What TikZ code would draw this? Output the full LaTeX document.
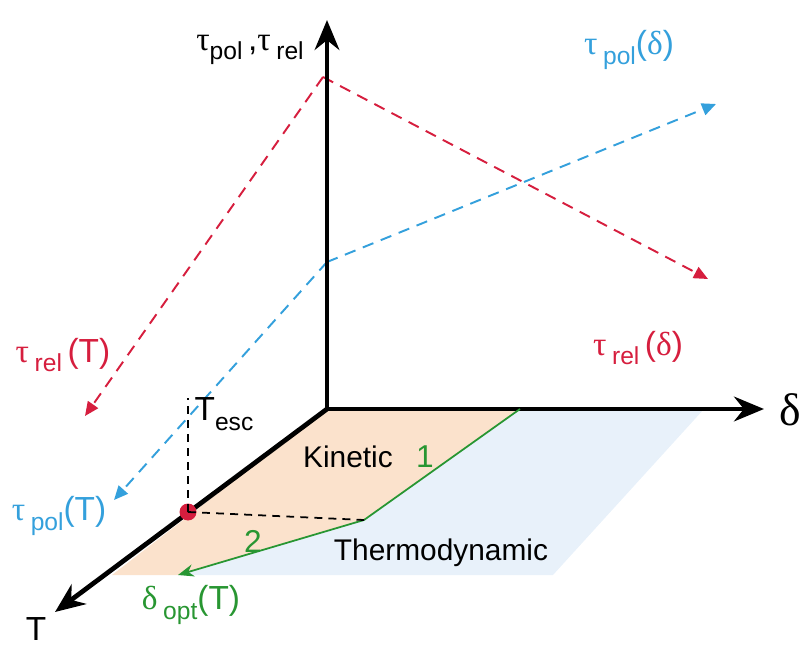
\documentclass[tikz,border=0pt]{standalone}
\usepackage{fontspec}
\setmainfont{Liberation Sans}
\newfontfamily\grk{Liberation Serif}
\usetikzlibrary{arrows.meta}
\definecolor{relred}{RGB}{214,30,62}
\definecolor{polblue}{RGB}{52,160,220}
\definecolor{optgreen}{RGB}{40,150,50}
\definecolor{kinfill}{RGB}{251,226,204}
\definecolor{thfill}{RGB}{232,241,250}
\newcommand{\lowtxt}[1]{\raisebox{-0.55ex}{\fontsize{14}{14}\selectfont #1}}
\newcommand{\gtau}{{\grk τ}}
\newcommand{\gdel}{{\grk δ}}
\tikzset{
  axis/.style={line width=2.7pt,-{Stealth[length=17pt,width=14pt]}},
  trend/.style={line width=1.1pt,dash pattern=on 6.5pt off 4.5pt,-{Triangle[length=8pt,width=7pt]}},
  lab/.style={font=\fontsize{19}{21}\selectfont,inner sep=0pt},
}
\begin{document}
\begin{tikzpicture}[x=0.02cm,y=-0.02cm]
  \useasboundingbox (0,0) rectangle (808,645);
  % Points
  \coordinate (O) at (327,409);
  \coordinate (dtip) at (764,409);
  \coordinate (tautip) at (327,20);
  \coordinate (Ttip) at (55,612);
  \coordinate (kA) at (520,409);
  \coordinate (kB) at (364,520);
  \coordinate (kC) at (178,575);
  \coordinate (kD) at (112,575);
  \coordinate (tA) at (704,409);
  \coordinate (tB) at (553,575);
  \coordinate (relapex) at (323,77);
  \coordinate (relT) at (85,416);
  \coordinate (reld) at (708,279);
  \coordinate (polkink) at (327,262);
  \coordinate (polT) at (114,500);
  \coordinate (pold) at (716,104);
  \coordinate (esctop) at (186,398);
  % Regions
  \fill[thfill] (kA) -- (tA) -- (tB) -- (kC) -- (kB) -- cycle;
  \fill[kinfill] (O) -- (kA) -- (kB) -- (kC) -- (kD) -- cycle;
  % Relaxation and polarization times
  \draw[trend,relred] (relapex) -- (relT);
  \draw[trend,relred] (relapex) -- (reld);
  \draw[trend,polblue] (polkink) -- (polT);
  \draw[trend,polblue] (polkink) -- (pold);
  % Axes
  \draw[axis] (O) -- (tautip);
  \draw[axis] (O) -- (dtip);
  \draw[axis] (O) -- (Ttip);
  % Optimum path
  \draw[optgreen,line width=1pt,-{Stealth[length=9pt,width=7pt]}] (kA) -- (kB) -- (kC);
  % Escape point
  \node[circle,fill=relred,inner sep=0pt,minimum size=0.34cm] (esc) at (188,512) {};
  \draw[line width=1pt,dash pattern=on 4.5pt off 3.5pt] (esc.center) -- (esc.center |- esctop);
  \draw[line width=1pt,dash pattern=on 4.5pt off 3.5pt] (esc.center) -- (kB);
  % Labels
  \node[lab] (taulab) at (250,50) {\gtau\lowtxt{pol}\,,\gtau\,\lowtxt{rel}};
  \node[lab,polblue] (poldlab) at (629,50) {\gtau\,\lowtxt{pol}(\gdel)};
  \node[lab,relred] (reldlab) at (638,348) {\gtau\,\lowtxt{rel}\,(\gdel)};
  \node[lab,relred] (relTlab) at (63,355) {\gtau\,\lowtxt{rel}\,(T)};
  \node[lab,polblue] (polTlab) at (59,516) {\gtau\,\lowtxt{pol}(T)};
  \node[lab] (tesclab) at (224,414) {T\lowtxt{esc}};
  \node[lab,font=\fontsize{17}{18}\selectfont] (kinlab) at (348,457) {Kinetic};
  \node[lab,font=\fontsize{17}{18}\selectfont] (thlab) at (441,553) {Thermodynamic};
  \node[lab,optgreen,font=\fontsize{18}{18}\selectfont] (onelab) at (425,457) {1};
  \node[lab,optgreen,font=\fontsize{18}{18}\selectfont] (twolab) at (253,541) {2};
  \node[lab,optgreen] (optlab) at (191,605) {\gdel\,\lowtxt{opt}(T)};
  \node[lab,font=\fontsize{26}{28}\selectfont\grk] (dlab) at (790,410) {δ};
  \node[lab,anchor=north] (Tlab) at (36,617) {T};
\end{tikzpicture}
\end{document}
